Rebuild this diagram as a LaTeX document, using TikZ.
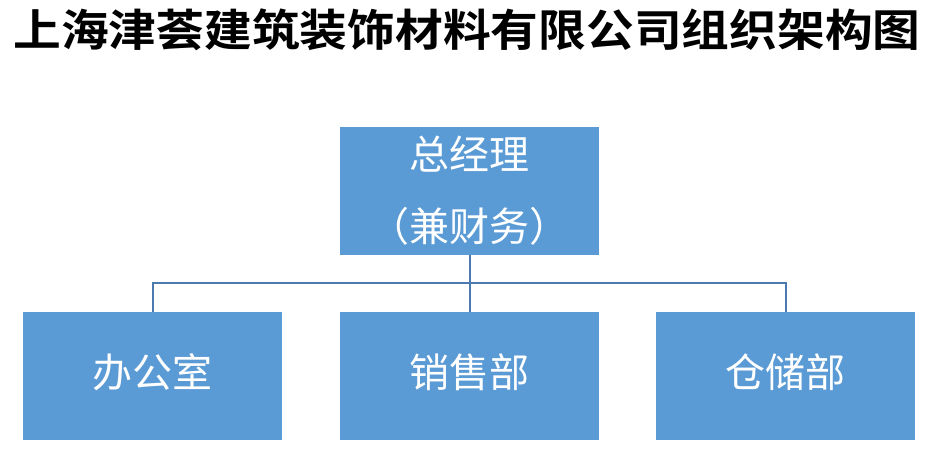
\documentclass[tikz,border=0pt]{standalone}
\usepackage{fontspec}
\newfontfamily\cjk{Noto Sans CJK SC}
\newfontfamily\cjkbold{Noto Sans CJK SC Bold}
\definecolor{boxblue}{HTML}{5B9BD5}
\definecolor{lineblue}{HTML}{4A7AB0}
\begin{document}
\begin{tikzpicture}[x=1pt,y=-1pt,
  orgbox/.style={fill=boxblue, draw=none, minimum width=259pt, minimum height=128pt, inner sep=0pt, anchor=north west},
  boxtext/.style={text=white, font=\cjk\fontsize{40}{44}\selectfont, inner sep=0pt},
  link/.style={draw=lineblue, line width=1.8pt}]
\useasboundingbox (0,0) rectangle (942,476);
\node[font=\cjkbold\fontsize{44}{48}\selectfont, anchor=center, inner sep=0pt] (title) at (467,30) {\scalebox{1.085}[1]{上海津荟建筑装饰材料有限公司组织架构图}};
\node[orgbox] (gm) at (340,127) {};
\node[boxtext] (gmA) at (469,154) {总经理};
\node[boxtext] (gmB) at (469,226) {（兼财务）};
\node[orgbox] (off) at (23,312) {};
\node[orgbox] (sales) at (340,312) {};
\node[orgbox] (store) at (656,312) {};
\node[boxtext] (offT) at (152,372) {办公室};
\node[boxtext] (salesT) at (469,372) {销售部};
\node[boxtext] (storeT) at (785,372) {仓储部};
\coordinate (bus) at (469,283);
\draw[link] (gm.south) -- (sales.north);
\draw[link] (off.north) |- (bus) -| (store.north);
\end{tikzpicture}
\end{document}
